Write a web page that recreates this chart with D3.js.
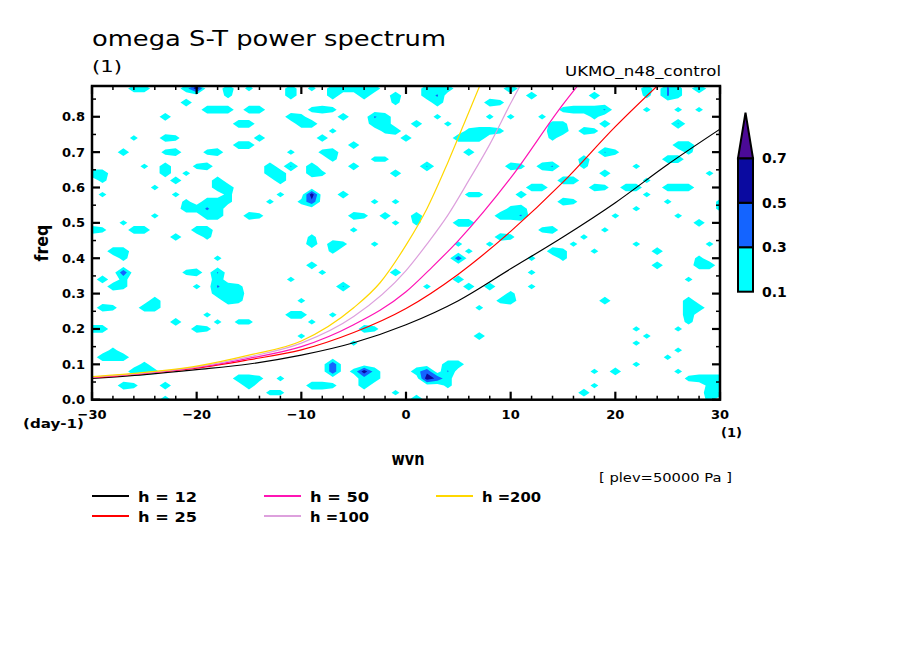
<!DOCTYPE html>
<html>
<head>
<meta charset="utf-8">
<script src="https://cdn.jsdelivr.net/npm/d3@7"></script>
<style>
  body { margin: 0; background: #fff; }
  text { font-family: "DejaVu Sans", sans-serif; fill: #000; }
</style>
</head>
<body>
<div id="chart"></div>
<script>
// axes
const wvnDomain = [-30, 30];
const freqDomain = [0, 0.887];
const xTickLabels = [-30, -20, -10, 0, 10, 20, 30];
const yTickLabels = [0, 0.1, 0.2, 0.3, 0.4, 0.5, 0.6, 0.7, 0.8];

// shading levels
const levels = [0.1, 0.3, 0.5, 0.7];
const levelColors = ["#00ffff", "#1464ff", "#0a0aa0", "#4b0a96"];
const levelLabels = ["0.1", "0.3", "0.5", "0.7"];

// power on the (wvn, freq) grid, wvn -30..30 step 1, freq 0..0.88 step 0.02
// rows listed from the top (freq 0.88) down to freq 0; code -> power below
const powerCodes = [0, 0.16, 0.22, 0.32, 0.45, 0.62, 0.8];
const gridWvnStart = -30, gridWvnStep = 1, gridFreqStep = 0.02;
const powerRows = [
  "....22...2 5..2.1...2 .1.22222.. ..222..... 3......... ...2.31.3. .",
  ".......... ...1.....2 ...2..2..2 ..23...... ..2.....2. ...1.31... .",
  ".........2 .......... .........1 ...2....21 .......... .......... .",
  ".......... .222.22... .121...... .......... .....12223 ...1..1.1. .",
  ".......2.. .........2 1...2..32. ...1....1. 1..1....1. .......... .",
  ".......... ....22.... 22.....22. .2..1..... ....11...2 ......3... .",
  ".......... .......... ...1....12 ......1221 ....22.21. .......... .",
  "....1..21. ......2... ..2....... 2....222.. ....1..... .......... .",
  ".......... ....22.... .....2.... .......... .......... ......22.. .",
  "...2...12. .12......1 ..12...... ......2... .........3 1......1.. .",
  ".......... .......... ...1...11. .......... .......2.. .....22... .",
  ".....1.2.. 12.....2.3 .2...2.... ..3....... 21.23..1.. ..1....... .",
  "22.....2.1 .......22. .21......2 .......... .........2 .........1 .",
  ".1......2. ..2.....2. .......... .......... .....22... ...1...... .",
  "......1... ..22...... .......... .......... ..22....21 .22..222.. .",
  ".1......1. ...1....1. .5..2..... ......11.. .2........ ...1...... .",
  ".........1 .221...1.. 14.....1.1 .......... .....21... .....1.... 1",
  ".........2 232....... .......... .......... 12........ ..1....... 1",
  "......1... .22..21... .....21.2. .2.......2 23........ 1.....1... .",
  "...1...... .......... .........1 .1...22... .......... ........2. .",
  "21..22.... 22........ .....1.... .......... ...12....1 .......... .",
  "........2. .1........ .1........ .........2 1......1.. .......... .",
  ".......... .......... .2.21..1.. .....1..1. ......1... ..1......1 .",
  "..22...... .......... ...1...... ......1... ....21..1. ....2..... .",
  "...1...... ..1....... .......... .....4.... ..1..1.... ........1. .",
  ".......... .......... .2........ .......... .......... ....2...22 .",
  "...4.....1 2.3....... ..1......2 .......... ..1....... .......... .",
  ".2.1...... ..2......1 .......... .....2.... .......... .......1.. .",
  "..21...... 1.321..... ....3..... ..1...2.2. ..1....... .......... .",
  ".......... ..222..... .......... .......... 1......... .......... .",
  "......2... ...21..... 1......... .........1 2........2 .......2.. .",
  ".21..22... .......... .......... .......1.. .......... .......22. .",
  ".......... .1.......2 2..1...... .......... .......... .......2.. .",
  "........2. ..1.11.... .1........ .......... .......... .......1.. .",
  "22........ 21........ ......21.. .......... .......... ..1...1... .",
  ".......... .......... 1......... .......2.. .......... ...1...... .",
  ".......... .......... .....1.... .......... .......... ..1....... .",
  "..1....... .......... .......... .......... .......... ......1... .",
  ".222...... .......... .......... .......... .......... .....1.... .",
  ".....1.... .......... ...4...... ....22.... .......... ..1....... .",
  "....221... .......... ...4.152.. .24.3..... ........1. 2.....1... .",
  ".......... ....221.1. ......22.. ..541..... .......... .......122 2",
  "...21..2.. .....2.... .221..2... ....1..... ........1. .........1 2",
  ".......... .......11. .........1 .......... .......2.. .........2 2",
  ".......2.. .......... .......... .3........ .......... .........1 ."
];

// equivalent-depth dispersion curves [wvn, freq]
const curveH12 = [[-30, 0.060], [-25, 0.071], [-20, 0.085], [-15, 0.101], [-10, 0.126], [-5, 0.161],
  [0, 0.212], [5, 0.280], [10, 0.370], [15, 0.460], [20, 0.557], [25, 0.665], [30, 0.765]];
const curveH25 = [[-30, 0.062], [-25, 0.074], [-20, 0.089], [-15, 0.113], [-10, 0.141], [-5, 0.190],
  [0, 0.258], [5, 0.355], [10, 0.476], [15, 0.615], [20, 0.772], [25, 0.915]];
const curveH50 = [[-30, 0.063], [-25, 0.075], [-20, 0.091], [-15, 0.117], [-10, 0.150], [-5, 0.212],
  [0, 0.305], [2.5, 0.375], [5, 0.450], [10, 0.627], [15, 0.835], [17, 0.910]];
const curveH100 = [[-30, 0.064], [-25, 0.076], [-20, 0.093], [-15, 0.121], [-10, 0.160], [-5, 0.235],
  [0, 0.365], [2, 0.440], [4, 0.522], [6, 0.620], [8, 0.722], [10, 0.838], [11.5, 0.920]];
const curveH200 = [[-30, 0.065], [-25, 0.077], [-20, 0.095], [-15, 0.126], [-10, 0.166], [-5, 0.260],
  [-2.5, 0.330], [0, 0.437], [2, 0.540], [4, 0.671], [6, 0.813], [7.5, 0.920]];

const curveList = [curveH12, curveH25, curveH50, curveH100, curveH200];
const curveColors = ["#000000", "#ff0000", "#ff14b4", "#dda0dd", "#ffd700"];
const curveLabels = ["h = 12", "h = 25", "h = 50", "h =100", "h =200"];

const W = 904, H = 654;
const plot = { left: 92, right: 720, top: 86, bottom: 399.7 };

const svg = d3.select("#chart").append("svg")
  .attr("width", W)
  .attr("height", H);

const x = d3.scaleLinear().domain(wvnDomain).range([plot.left, plot.right]);
const y = d3.scaleLinear().domain(freqDomain).range([plot.bottom, plot.top]);

svg.append("clipPath").attr("id", "plotClip")
  .append("rect")
  .attr("x", plot.left).attr("y", plot.top)
  .attr("width", plot.right - plot.left)
  .attr("height", plot.bottom - plot.top);

const inner = svg.append("g").attr("clip-path", "url(#plotClip)");

// --- shaded power
const nx = 61, ny = powerRows.length;
const values = new Array(nx * ny).fill(0);
powerRows.forEach((row, k) => {
  const cells = row.replace(/ /g, "");
  const j = ny - 1 - k; // j = 0 at freq 0
  for (let i = 0; i < nx; i++) {
    values[j * nx + i] = powerCodes[+cells[i] || 0];
  }
});

const contours = d3.contours().size([nx, ny]).thresholds(levels)(values);
const gridToScreen = d3.geoTransform({
  point(u, v) {
    this.stream.point(
      x(gridWvnStart + (u - 0.5) * gridWvnStep),
      y((v - 0.5) * gridFreqStep)
    );
  }
});
const contourPath = d3.geoPath(gridToScreen);

inner.selectAll("path.shade")
  .data(contours)
  .join("path")
  .attr("class", "shade")
  .attr("d", contourPath)
  .attr("fill", (d, i) => levelColors[i])
  .attr("stroke", "none");

// --- dispersion curves
const line = d3.line()
  .x(d => x(d[0]))
  .y(d => y(d[1]))
  .curve(d3.curveMonotoneX);

inner.selectAll("path.curve")
  .data(curveList)
  .join("path")
  .attr("class", "curve")
  .attr("d", line)
  .attr("fill", "none")
  .attr("stroke", (d, i) => curveColors[i])
  .attr("stroke-width", 1.2);

// --- frame and ticks
svg.append("rect")
  .attr("x", plot.left).attr("y", plot.top)
  .attr("width", plot.right - plot.left)
  .attr("height", plot.bottom - plot.top)
  .attr("fill", "none")
  .attr("stroke", "#000")
  .attr("stroke-width", 2.5);

const ticks = svg.append("g").attr("stroke", "#000");
const xMinor = d3.range(-30, 31, 2);
const yMinor = d3.range(0, 0.8501, 0.05);

xMinor.forEach(v => {
  const major = v % 10 === 0;
  const len = major ? 8 : 4;
  [[plot.bottom, -1], [plot.top, 1]].forEach(([y0, dir]) => {
    ticks.append("line")
      .attr("x1", x(v)).attr("x2", x(v))
      .attr("y1", y0).attr("y2", y0 + dir * len)
      .attr("stroke-width", major ? 2.2 : 1.5);
  });
});

yMinor.forEach(v => {
  const major = Math.abs(v * 10 - Math.round(v * 10)) < 1e-6;
  const len = major ? 8 : 4;
  [[plot.left, 1], [plot.right, -1]].forEach(([x0, dir]) => {
    ticks.append("line")
      .attr("x1", x0).attr("x2", x0 + dir * len)
      .attr("y1", y(v)).attr("y2", y(v))
      .attr("stroke-width", major ? 2.2 : 1.5);
  });
});

// tick labels
svg.append("g").selectAll("text")
  .data(xTickLabels)
  .join("text")
  .attr("x", d => x(d))
  .attr("y", 418.5)
  .attr("text-anchor", "middle")
  .attr("font-size", 13)
  .attr("font-weight", "bold")
  .text(d => d < 0 ? "\u2212" + Math.abs(d) : d);

svg.append("g").selectAll("text")
  .data(yTickLabels)
  .join("text")
  .attr("x", 85)
  .attr("y", d => y(d) + 4.5)
  .attr("text-anchor", "end")
  .attr("font-size", 13)
  .attr("font-weight", "bold")
  .text(d => d.toFixed(1));

// unit labels
svg.append("text").attr("x", 23).attr("y", 428)
  .attr("font-size", 13).attr("font-weight", "bold")
  .attr("textLength", 61).attr("lengthAdjust", "spacingAndGlyphs")
  .text("(day-1)");
svg.append("text").attr("x", 721).attr("y", 437)
  .attr("font-size", 13).attr("font-weight", "bold")
  .text("(1)");

svg.append("text").attr("x", 408).attr("y", 465)
  .attr("text-anchor", "middle")
  .attr("font-size", 17).attr("font-weight", "bold")
  .attr("textLength", 33).attr("lengthAdjust", "spacingAndGlyphs")
  .text("wvn");

svg.append("text")
  .attr("transform", "translate(48,243) rotate(-90)")
  .attr("text-anchor", "middle")
  .attr("font-size", 17).attr("font-weight", "bold")
  .attr("textLength", 37).attr("lengthAdjust", "spacingAndGlyphs")
  .text("freq");

// titles
svg.append("text").attr("x", 92).attr("y", 46)
  .attr("font-size", 22)
  .attr("textLength", 354).attr("lengthAdjust", "spacingAndGlyphs")
  .text("omega S-T power spectrum");
svg.append("text").attr("x", 92).attr("y", 72)
  .attr("font-size", 16)
  .attr("textLength", 30).attr("lengthAdjust", "spacingAndGlyphs")
  .text("(1)");
svg.append("text").attr("x", 721).attr("y", 76)
  .attr("text-anchor", "end")
  .attr("font-size", 14)
  .attr("textLength", 156).attr("lengthAdjust", "spacingAndGlyphs")
  .text("UKMO_n48_control");
svg.append("text").attr("x", 732).attr("y", 482)
  .attr("text-anchor", "end")
  .attr("font-size", 13)
  .attr("textLength", 133).attr("lengthAdjust", "spacingAndGlyphs")
  .text("[ plev=50000 Pa ]");

// --- colour bar
const cb = { x: 738, w: 15 };
const cbY = d3.scaleLinear().domain([0.1, 0.7]).range([291.7, 158.3]);
const cbTip = 112.7;
const cbG = svg.append("g");

levels.slice(0, 3).forEach((lv, i) => {
  cbG.append("rect")
    .attr("x", cb.x).attr("y", cbY(levels[i + 1]))
    .attr("width", cb.w)
    .attr("height", cbY(lv) - cbY(levels[i + 1]))
    .attr("fill", levelColors[i])
    .attr("stroke", "#000").attr("stroke-width", 2);
});
cbG.append("path")
  .attr("d", `M${cb.x},${cbY(0.7)} L${cb.x + cb.w},${cbY(0.7)} L${cb.x + cb.w / 2},${cbTip} Z`)
  .attr("fill", levelColors[3])
  .attr("stroke", "#000").attr("stroke-width", 2)
  .attr("stroke-linejoin", "miter");

cbG.selectAll("text")
  .data(levels)
  .join("text")
  .attr("x", 762)
  .attr("y", d => cbY(d) + 5)
  .attr("font-size", 14)
  .attr("font-weight", "bold")
  .text((d, i) => levelLabels[i]);

// --- legend
const legend = svg.append("g");
curveLabels.forEach((lab, i) => {
  const col = Math.floor(i / 2), row = i % 2;
  const lx = 92 + col * 172, ly = 496 + row * 20;
  legend.append("line")
    .attr("x1", lx).attr("x2", lx + 37)
    .attr("y1", ly).attr("y2", ly)
    .attr("stroke", curveColors[i])
    .attr("stroke-width", 2);
  legend.append("text")
    .attr("x", lx + 46).attr("y", ly + 6)
    .attr("font-size", 14)
    .attr("font-weight", "bold")
    .attr("textLength", 59).attr("lengthAdjust", "spacingAndGlyphs")
    .text(lab);
});
</script>
</body>
</html>
